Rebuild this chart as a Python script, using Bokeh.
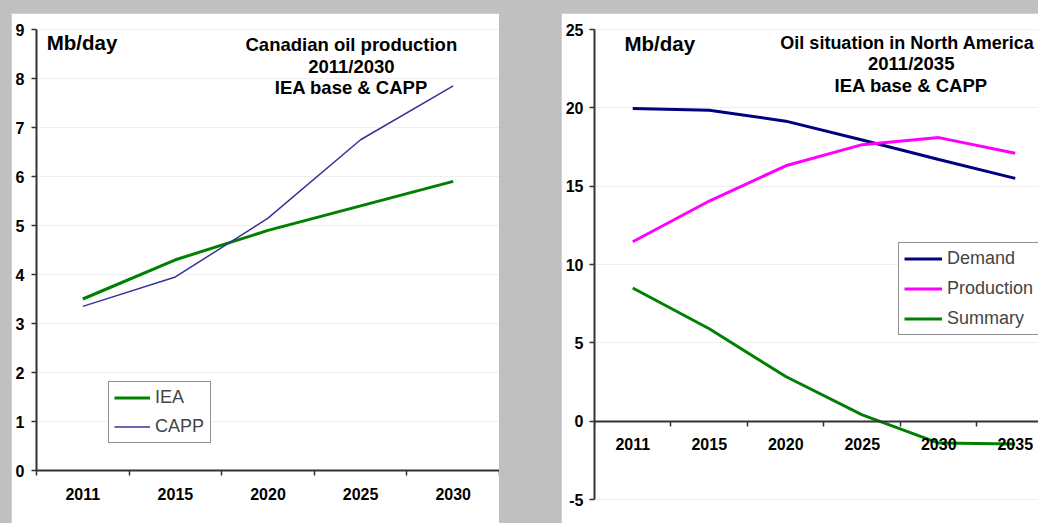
from bokeh.plotting import figure
from bokeh.models import Range1d, FixedTicker, Label, Legend, LegendItem, Spacer
from bokeh.layouts import row, column
from bokeh.embed import file_html
from bokeh.resources import INLINE

# ---- data: Canadian oil production (Mb/day)
years_ca = ["2011", "2015", "2020", "2025", "2030"]
iea = [3.5, 4.3, 4.9, 5.4, 5.9]
capp = [3.35, 3.95, 5.15, 6.75, 7.85]
ca_yticks = [0, 1, 2, 3, 4, 5, 6, 7, 8, 9]

# ---- data: Oil situation in North America (Mb/day)
years_na = ["2011", "2015", "2020", "2025", "2030", "2035"]
demand = [19.95, 19.85, 19.15, 17.95, 16.7, 15.5]
production = [11.45, 14.05, 16.3, 17.65, 18.1, 17.1]
summary = [8.5, 5.9, 2.85, 0.4, -1.4, -1.45]
na_yticks = [-5, 0, 5, 10, 15, 20, 25]

FONT = "Liberation Sans"
AX = "#333333"


def centers(cats):
    return [i + 0.5 for i in range(len(cats))]


def style(p, cats, yticks):
    p.background_fill_color = "white"
    p.border_fill_color = "white"
    p.outline_line_color = None
    p.xgrid.visible = False
    p.ygrid.grid_line_color = "#efefef"
    p.ygrid.grid_line_width = 1
    p.yaxis.ticker = FixedTicker(ticks=yticks)
    p.ygrid.ticker = FixedTicker(ticks=yticks)
    p.yaxis.major_label_overrides = {t: str(t) for t in yticks}
    p.xaxis.ticker = FixedTicker(ticks=centers(cats),
                                 minor_ticks=list(range(len(cats) + 1)))
    p.xaxis.major_label_overrides = {c: s for c, s in zip(centers(cats), cats)}
    for ax in p.axis:
        ax.axis_line_color = AX
        ax.axis_line_width = 2
        ax.major_label_text_font = FONT
        ax.major_label_text_font_style = "bold"
        ax.major_label_text_font_size = "16px"
        ax.major_label_text_color = "black"
        ax.major_tick_line_color = AX
        ax.major_tick_line_width = 1.5
        ax.minor_tick_line_color = AX
        ax.minor_tick_line_width = 1.5
    p.yaxis.major_tick_out = 5
    p.yaxis.major_tick_in = 0
    p.yaxis.minor_tick_out = 0
    p.yaxis.minor_tick_in = 0
    p.xaxis.major_tick_out = 0
    p.xaxis.major_tick_in = 0
    p.xaxis.minor_tick_out = 5
    p.xaxis.minor_tick_in = 0


def add_label(p, x, y, text, size, align="center"):
    p.add_layout(Label(x=x, y=y, text=text, text_font=FONT,
                       text_font_style="bold", text_font_size=size,
                       text_align=align, text_baseline="middle",
                       text_color="black"))


def make_legend(p, items, loc, padding, spacing, glyph_w, standoff, label_w):
    lg = Legend(items=items, location=loc, orientation="vertical")
    lg.border_line_color = "#222222"
    lg.border_line_width = 1.5
    lg.background_fill_color = "white"
    lg.background_fill_alpha = 1
    lg.label_text_font = FONT
    lg.label_text_font_size = "18px"
    lg.glyph_width = glyph_w
    lg.glyph_height = 21
    lg.label_height = 21
    lg.label_width = label_w
    lg.spacing = spacing
    lg.padding = padding
    lg.margin = 0
    lg.label_standoff = standoff
    p.add_layout(lg)


# ---------------- left chart
p1 = figure(frame_width=463, frame_height=441, output_backend="svg",
            toolbar_location=None,
            x_range=Range1d(0, len(years_ca)), y_range=Range1d(0, 9),
            min_border_left=25, min_border_right=0, min_border_top=16,
            min_border_bottom=53)
style(p1, years_ca, ca_yticks)
p1.yaxis.major_label_standoff = 7
p1.xaxis.major_label_standoff = 12
x1 = centers(years_ca)
r_iea = p1.line(x1, iea, line_color="#008000", line_width=3)
r_capp = p1.line(x1, capp, line_color="#333399", line_width=1.5)
add_label(p1, 0.11, 8.73, "Mb/day", "20.5px", align="left")
add_label(p1, 3.40, 8.69, "Canadian oil production", "18.5px")
add_label(p1, 3.40, 8.24, "2011/2030", "18.5px")
add_label(p1, 3.40, 7.82, "IEA base & CAPP", "18.5px")
make_legend(p1, [LegendItem(label="IEA", renderers=[r_iea]),
                 LegendItem(label="CAPP", renderers=[r_capp])],
            (72, 27), padding=5, spacing=8, glyph_w=36, standoff=5, label_w=50)

# ---------------- right chart
p2 = figure(frame_width=444, frame_height=470, output_backend="svg",
            toolbar_location=None,
            x_range=Range1d(0, 5.804), y_range=Range1d(-5, 25),
            min_border_left=33, min_border_right=0, min_border_top=16,
            min_border_bottom=24)
style(p2, years_na, na_yticks)
p2.xaxis.fixed_location = 0
p2.yaxis.major_label_standoff = 6
p2.xaxis.major_label_standoff = 12
x2 = centers(years_na)
r_dem = p2.line(x2, demand, line_color="#000080", line_width=3)
r_prod = p2.line(x2, production, line_color="#ff00ff", line_width=3)
r_sum = p2.line(x2, summary, line_color="#008000", line_width=3)
add_label(p2, 0.392, 24.12, "Mb/day", "20.5px", align="left")
add_label(p2, 4.09, 24.16, "Oil situation in North America", "18px")
add_label(p2, 4.14, 22.82, "2011/2035", "18.5px")
add_label(p2, 4.14, 21.44, "IEA base & CAPP", "18.5px")
make_legend(p2, [LegendItem(label="Demand", renderers=[r_dem]),
                 LegendItem(label="Production", renderers=[r_prod]),
                 LegendItem(label="Summary", renderers=[r_sum])],
            (304, 164), padding=5, spacing=9, glyph_w=38, standoff=5, label_w=100)

layout = column(Spacer(height=13),
                row(Spacer(width=11), p1, Spacer(width=62), p2),
                width=1038, height=523, sizing_mode="fixed",
                styles={"background-color": "#c0c0c0", "overflow": "hidden"})

open("out.html", "w").write(file_html(layout, INLINE))
